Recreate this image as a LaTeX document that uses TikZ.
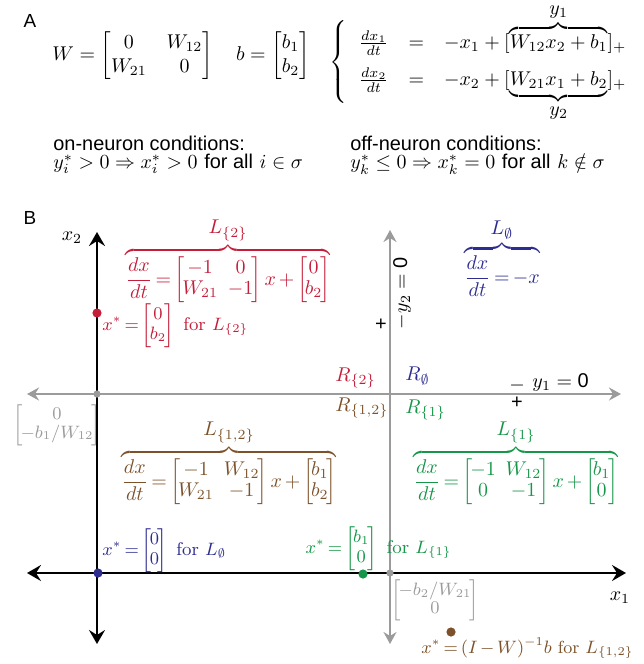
\documentclass[tikz,border=0pt]{standalone}
\usepackage{amsmath,amssymb}
\usepackage{fontspec}
\setsansfont{Liberation Sans}
\usetikzlibrary{arrows.meta}
\definecolor{cred}{RGB}{196,30,58}
\definecolor{cblue}{RGB}{45,45,145}
\definecolor{cbrown}{RGB}{125,82,42}
\definecolor{cgreen}{RGB}{22,150,72}
\definecolor{cgray}{RGB}{155,155,155}
\newcommand{\tm}[1]{\left[\mkern-2mu\def\arraystretch{0.9}\begin{array}{@{}c@{\hspace{5pt}}c@{}}#1\end{array}\mkern-2mu\right]}
\newcommand{\tv}[1]{\left[\mkern-2mu\def\arraystretch{0.9}\begin{array}{@{}c@{}}#1\end{array}\mkern-2mu\right]}
\newcommand{\tightsp}{\thickmuskip=3mu plus 2mu\medmuskip=2.5mu plus 1mu minus 1mu}
\begin{document}
\begin{tikzpicture}[x=0.5bp,y=-0.5bp,
  blackax/.style={line width=1.3bp,{Stealth[length=7bp,width=8bp,inset=2.5bp]}-{Stealth[length=7bp,width=8bp,inset=2.5bp]}},
  grayax/.style={cgray,line width=1bp,{Stealth[length=6bp,width=6.5bp,inset=2bp]}-{Stealth[length=6bp,width=6.5bp,inset=2bp]}},
  dot/.style={circle,inner sep=0pt,minimum size=4.6bp},
  gdot/.style={circle,inner sep=0pt,minimum size=3.6bp,fill=cgray},
  lbl/.style={inner sep=0pt},
  eqn/.style={inner sep=0pt,font=\fontsize{9.6}{11.5}\selectfont\tightsp},
  fpl/.style={inner sep=0pt,font=\fontsize{9.2}{11}\selectfont\tightsp},
  grm/.style={inner sep=0pt,text=cgray,font=\fontsize{8.6}{10}\selectfont\tightsp},
  panel/.style={font=\sffamily\fontsize{9.5}{11}\selectfont,inner sep=0pt}]
\useasboundingbox (0,0) rectangle (644,664);

% ---------- Panel A ----------
\node[panel] (pA) at (30,21) {A};
\node[lbl,anchor=west] (Wb) at (52,56) {$W=\begin{bmatrix}0&W_{12}\\W_{21}&0\end{bmatrix}\quad b=\begin{bmatrix}b_1\\b_2\end{bmatrix}$};
\node[lbl,anchor=west] (sys) at (329,62) {$\left\{\rule[-18pt]{0pt}{36pt}\right.\begin{array}{@{\hspace{3pt}}l@{\hspace{10pt}}c@{\hspace{10pt}}l@{}}
 \frac{dx_1}{dt} & = & -x_1+[\smash[t]{\overbrace{W_{12}x_2+b_1}^{\textstyle y_1}}]_+\\[6pt]
 \frac{dx_2}{dt} & = & -x_2+[\smash[b]{\underbrace{W_{21}x_1+b_2}_{\textstyle y_2}}]_+
 \end{array}$};
\node[lbl,anchor=west,font=\sffamily] (onh) at (53,143) {on-neuron conditions:};
\node[lbl,anchor=west] (onc) at (53,164) {$y_i^*>0\Rightarrow x_i^*>0$ \textsf{for all} $i\in\sigma$};
\node[lbl,anchor=west,font=\sffamily] (offh) at (350,143) {off-neuron conditions:};
\node[lbl,anchor=west] (offc) at (350,164) {$y_k^*\le 0\Rightarrow x_k^*=0$ \textsf{for all} $k\notin\sigma$};

% ---------- Panel B ----------
\node[panel] (pB) at (30,218) {B};

\coordinate (g2top) at (390,230);
\coordinate (g2bot) at (390,644);
\coordinate (g1left) at (27,394);
\coordinate (g1right) at (621,394);
\draw[grayax] (g2bot) -- (g2top);
\draw[grayax] (g1left) -- (g1right);

\coordinate (x2top) at (97,232);
\coordinate (x2bot) at (97,644);
\coordinate (x1left) at (27,573);
\coordinate (x1right) at (626,573);
\draw[blackax] (x2bot) -- (x2top);
\draw[blackax] (x1left) -- (x1right);

\node[lbl] (x2lab) at (72,238) {$x_2$};
\node[lbl] (x1lab) at (620,598) {$x_1$};

% nullcline labels
\node[lbl,rotate=90] (y2minus) at (402,322) {$-$};
\node[lbl,rotate=90,anchor=west] (y2lab) at (402,314) {$y_2=\mbox{\sffamily 0}$};
\node[lbl] (y2plus) at (381,325) {\textsf{+}};
\node[lbl] (y1minus) at (517,386) {$-$};
\node[lbl,anchor=west] (y1lab) at (532,382) {$y_1=\mbox{\sffamily 0}$};
\node[lbl] (y1plus) at (517,403) {\textsf{+}};

% region labels
\node[lbl,anchor=west,text=cred] (R2) at (335,378) {$R_{\{2\}}$};
\node[lbl,anchor=west,text=cblue] (R0) at (405,376) {$R_{\emptyset}$};
\node[lbl,anchor=west,text=cbrown] (R12) at (335,408) {$R_{\{1,2\}}$};
\node[lbl,anchor=west,text=cgreen] (R1) at (405,410) {$R_{\{1\}}$};

% linear systems
\node[eqn,anchor=base,text=cred] (L2) at (228,285) {$\displaystyle\overbrace{\frac{dx}{dt}=\tm{-1&0\\W_{21}&-1}x+\tv{0\\b_2}}^{\textstyle L_{\{2\}}}$};
\node[eqn,anchor=base,text=cblue] (L0) at (502,283) {$\displaystyle\overbrace{\frac{dx}{dt}=-x}^{\textstyle L_{\emptyset}}$};
\node[eqn,anchor=base,text=cbrown] (L12) at (229,487) {$\displaystyle\overbrace{\frac{dx}{dt}=\tm{-1&W_{12}\\W_{21}&-1}x+\tv{b_1\\b_2}}^{\textstyle L_{\{1,2\}}}$};
\node[eqn,anchor=base,text=cgreen] (L1) at (516,487) {$\displaystyle\overbrace{\frac{dx}{dt}=\tm{-1&W_{12}\\0&-1}x+\tv{b_1\\0}}^{\textstyle L_{\{1\}}}$};

% intersection points with axes (gray)
\node[grm] (ix2) at (57,425) {$\tv{0\\-b_1/W_{12}}$};
\node[grm] (ix1) at (435,600) {$\tv{-b_2/W_{21}\\0}$};

% fixed points
\node[dot,fill=cred] (pR) at (97,313) {};
\node[gdot] (pG1) at (97,394) {};
\node[dot,fill=cblue] (pB0) at (98,573) {};
\node[dot,fill=cgreen] (pGr) at (363,574) {};
\node[gdot] (pG2) at (390,573) {};
\node[dot,fill=cbrown] (pBr) at (451,632) {};

\node[fpl,anchor=base west,text=cred] (fR) at (102,330) {$x^*=\tv{0\\b_2}\mbox{ for }L_{\{2\}}$};
\node[fpl,anchor=base west,text=cblue] (fB) at (102,555) {$x^*=\tv{0\\0}\mbox{ for }L_{\emptyset}$};
\node[fpl,anchor=base east,text=cgreen] (fG) at (452,553) {$x^*=\tv{b_1\\0}\mbox{ for }L_{\{1\}}$};
\node[fpl,anchor=base west,text=cbrown,font=\fontsize{8.8}{10.5}\selectfont\tightsp] (fBr) at (421,653) {$x^*=(I-W)^{-1}b\mbox{ for }L_{\{1,2\}}$};
\end{tikzpicture}
\end{document}
